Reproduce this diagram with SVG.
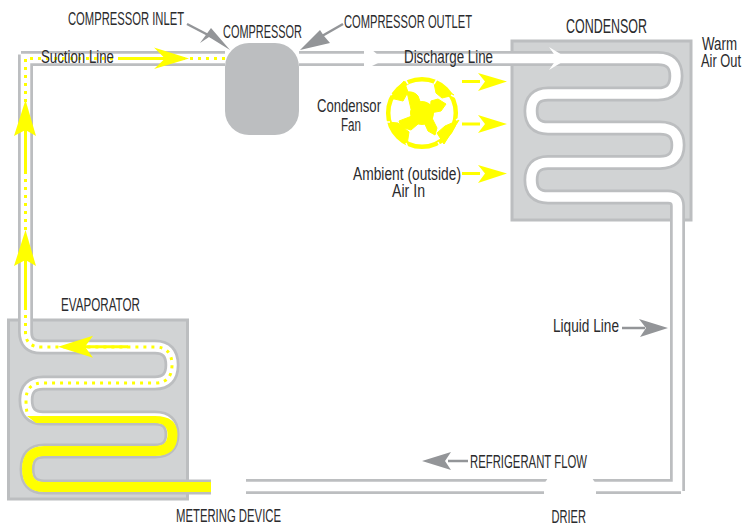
<svg xmlns="http://www.w3.org/2000/svg" width="742" height="525" viewBox="0 0 742 525">
<style>
text{font-family:"Liberation Sans Narrow","Liberation Sans",sans-serif;fill:#2b2b2d;font-size:17.500px}
.big{font-size:21px}
.box{fill:#d1d3d4;stroke:#bcbec0;stroke-width:3}
.tg{fill:none;stroke:#bcbec0;stroke-width:15}
.tw{fill:none;stroke:#fff;stroke-width:9.500}
.ty{fill:none;stroke:#ff0;stroke-width:10}
.dot{fill:none;stroke:#ff0;stroke-width:3;stroke-dasharray:3 5}
.yl{stroke:#ff0;stroke-width:3;fill:none}
.gl{stroke:#939598;stroke-width:2.500;fill:none}
.yh{fill:#ff0}
.gh{fill:#939598}
.w{fill:#fff}
.pt{fill:#ff0;stroke:#ff0;stroke-width:1;stroke-linejoin:round}
</style>
<rect width="742" height="525" fill="#fff"/>
<g id="condenser"><rect class="box" x="512" y="41" width="179" height="179"/></g>
<g id="evaporator"><rect class="box" x="8.500" y="320" width="179" height="179"/></g>
<g id="connectors">
<path id="circuit" class="tg" d="M246 486.500H677.500V206Q677.500 197 668 197H548Q531 197 531 180Q531 162.500 548 162.500H660Q678 162.500 678 145Q678 128 660 128H548Q531 128 531 111Q531 94 548 94H658Q676 94 676 76Q676 58.500 658 58.500H299"/>
<path class="tw" d="M246 486.500H677.500V206Q677.500 197 668 197H548Q531 197 531 180Q531 162.500 548 162.500H660Q678 162.500 678 145Q678 128 660 128H548Q531 128 531 111Q531 94 548 94H658Q676 94 676 76Q676 58.500 658 58.500H299"/>
<path class="tg" d="M225 58.500H25.500V332Q25.500 347 41 347H155Q172 347 172 365Q172 383 155 383H43Q26 383 26 400Q26 418 43 418H155Q172 418 172 434.500Q172 451 155 451H44Q27 451 27 469Q27 487 44 487H211"/>
<path class="tw" d="M225 58.500H25.500V332Q25.500 347 41 347H155Q172 347 172 365Q172 383 155 383H43Q26 383 26 400Q26 418 43 418H155Q172 418 172 434.500Q172 451 155 451H44Q27 451 27 469Q27 487 44 487H211"/>
<path class="ty" d="M155 451H44Q27 451 27 469Q27 487 44 487H211"/>
<path class="yh" d="M27 416L36 423H155Q167.500 423 167.500 434.500Q167.500 446 155 446V456Q177.500 456 177.500 434.500Q177.500 416 155 416Z"/>
<path class="dot" d="M225 58.500H25.500V332Q25.500 347 41 347H155Q172 347 172 365Q172 383 155 383H43Q26 383 26 400Q26 408 27 412"/>
<rect class="w" x="16.500" y="49.500" width="4.500" height="5"/>
<rect class="w" x="681" y="491" width="5" height="4"/>
<path class="w" d="M364 49H371L378 55V63L370 67L364 68Z"/>
<path class="w" d="M548 478H592L596 484V496H544V484Z"/>
<path class="w" d="M549 47L568 58.500L549 70L557 58.500Z"/>
<path class="yl" d="M119 58.500H165"/><path class="yh" d="M154 47.500L189 58.500L154 69L165 58.500Z"/>
<path class="yl" d="M25.500 173V130"/><path class="yh" d="M14 136L25.500 100L36 136L25.500 130Z"/>
<path class="yl" d="M25.500 307V260"/><path class="yh" d="M14 266L25.500 230L36 266L25.500 260Z"/>
<path class="yl" d="M128 346.700H85"/><path class="yh" d="M93 335.700L58 346.700L93 357.700L85 346.700Z"/>
<path class="yl" d="M462 81.500H480"/><path class="yh" d="M478 73L507 81.500L478 91L485 81.500Z"/>
<path class="yl" d="M462 124H480"/><path class="yh" d="M478 115L507 124L478 133L485 124Z"/>
<path class="yl" d="M462 173.500H480"/><path class="yh" d="M478 165L507 173.500L478 183L485 173.500Z"/>
<path class="gl" d="M187 24L212 37"/><path class="gh" d="M200 43L211 28L230 50L209 37Z"/>
<path class="gl" d="M343 24L322 36"/><path class="gh" d="M300 50L320 30L324 36L330 43Z"/>
<path class="gl" d="M622 328H645"/><path class="gh" d="M639 319L668 328L640 337L646 328Z"/>
<path class="gl" d="M468 461H448"/><path class="gh" d="M451 452L422 461L451 470L445 461Z"/>
</g>
<g id="compressor"><rect x="225" y="43" width="74" height="92" rx="24" fill="#bcbec0"/><text x="223" y="38" textLength="79" lengthAdjust="spacingAndGlyphs">COMPRESSOR</text></g>
<g id="condenser-fan">
<circle cx="422" cy="113" r="33.800" fill="#fff" stroke="#ff0" stroke-width="4.500"/>
<path class="pt" d="M390 98L404 81L408 92L403 101Z"/>
<path class="pt" d="M434 83L454 95L442 98L436 93Z"/>
<path class="pt" d="M459 120L444 144L437 133L445 126Z"/>
<path class="pt" d="M388 122L407 145L409 132L398 123Z"/>
<path class="pt" d="M407 92Q414 91 418 96L421 104L411 109Z"/>
<path class="pt" d="M431 101L438 99L446 104L441 111L430 113Z"/>
<path class="pt" d="M424 122L432 118L437 128L435 135L428 131Z"/>
<path class="pt" d="M412 116L418 124L411 130L401 127L399 121Z"/>
<path d="M405 79L408 84M392 95L389 92M437 79L434 84M455 97L451 95M460 118L456 120M440 146L438 142M408 148L406 143M385 122L390 122" stroke="#fff" stroke-width="1.500" fill="none"/>
<circle cx="422" cy="113" r="12" fill="#ff0"/>
<text x="317" y="112" textLength="64" lengthAdjust="spacingAndGlyphs">Condensor</text><text x="341" y="131" textLength="20" lengthAdjust="spacingAndGlyphs">Fan</text>
</g>
<g id="labels">
<text x="68" y="25" textLength="116" lengthAdjust="spacingAndGlyphs">COMPRESSOR INLET</text>
<text x="344" y="28" textLength="128" lengthAdjust="spacingAndGlyphs">COMPRESSOR OUTLET</text>
<text class="big" x="566" y="33" textLength="81" lengthAdjust="spacingAndGlyphs">CONDENSOR</text>
<text x="702" y="50" textLength="35" lengthAdjust="spacingAndGlyphs">Warm</text>
<text x="701" y="67" textLength="40" lengthAdjust="spacingAndGlyphs">Air Out</text>
<text x="41" y="63" textLength="73" lengthAdjust="spacingAndGlyphs">Suction Line</text>
<text x="404" y="63" textLength="89" lengthAdjust="spacingAndGlyphs">Discharge Line</text>
<text x="353" y="180" textLength="108" lengthAdjust="spacingAndGlyphs">Ambient (outside)</text>
<text x="392" y="197" textLength="33" lengthAdjust="spacingAndGlyphs">Air In</text>
<text x="61" y="311" textLength="79" lengthAdjust="spacingAndGlyphs">EVAPORATOR</text>
<text x="553" y="332" textLength="66" lengthAdjust="spacingAndGlyphs">Liquid Line</text>
<text x="470" y="468" textLength="117" lengthAdjust="spacingAndGlyphs">REFRIGERANT FLOW</text>
<text x="176" y="522" textLength="105" lengthAdjust="spacingAndGlyphs">METERING DEVICE</text>
<text x="551.500" y="522.500" textLength="34.500" lengthAdjust="spacingAndGlyphs">DRIER</text>
</g>
</svg>
